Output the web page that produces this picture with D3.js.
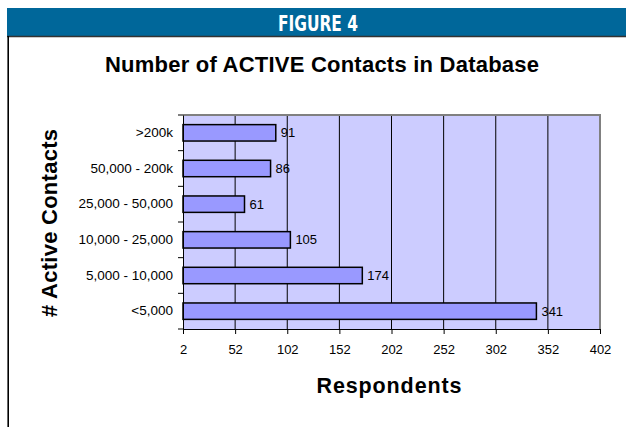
<!doctype html>
<meta charset="utf-8">
<title>Figure 4</title>
<style>
body { margin: 0; background: #fff; }
svg { font-family: Arial, "Liberation Sans", sans-serif; }
.grid line { stroke: #000; stroke-width: 1; }
.axis path, .axis line { stroke: #000; }
.axis text { font-size: 13px; fill: #000; }
</style>
<script src="https://d3js.org/d3.v7.min.js"></script>
<body>
<script>
// data
var categories = [">200k", "50,000 - 200k", "25,000 - 50,000", "10,000 - 25,000", "5,000 - 10,000", "<5,000"];
var respondents = [91, 86, 61, 105, 174, 341];
var xTicks = [2, 52, 102, 152, 202, 252, 302, 352, 402];

var width = 626, height = 427;
var plot = {left: 183, right: 600, top: 115, bottom: 329};

var svg = d3.select("body").append("svg")
    .attr("width", width)
    .attr("height", height);

// header band + frame
svg.append("rect")
    .attr("x", 7).attr("y", 8)
    .attr("width", width - 7).attr("height", 28)
    .attr("fill", "#00679a");
svg.append("line")
    .attr("x1", 7).attr("x2", width)
    .attr("y1", 36.5).attr("y2", 36.5)
    .attr("stroke", "#333").attr("stroke-width", 1.5);
svg.append("line")
    .attr("x1", 8.2).attr("x2", 8.2)
    .attr("y1", 36).attr("y2", height)
    .attr("stroke", "#000").attr("stroke-width", 1.6);

svg.append("text")
    .attr("x", 318).attr("y", 31)
    .attr("text-anchor", "middle")
    .style("font-family", "'Liberation Sans Narrow', 'DejaVu Sans Condensed', sans-serif")
    .style("font-weight", "bold")
    .style("font-size", "21px")
    .attr("textLength", 80)
    .attr("lengthAdjust", "spacingAndGlyphs")
    .attr("fill", "#fff")
    .text("FIGURE 4");

svg.append("text")
    .attr("x", 322).attr("y", 72)
    .attr("text-anchor", "middle")
    .style("font-weight", "bold")
    .style("font-size", "22px")
    .attr("textLength", 434)
    .text("Number of ACTIVE Contacts in Database");

// scales
var x = d3.scaleLinear()
    .domain([xTicks[0], xTicks[xTicks.length - 1]])
    .range([plot.left, plot.right]);
var y = d3.scaleBand()
    .domain(categories)
    .range([plot.top, plot.bottom])
    .paddingInner(0.54)
    .paddingOuter(0.27);

// plot background
svg.append("rect")
    .attr("x", plot.left).attr("y", plot.top)
    .attr("width", plot.right - plot.left).attr("height", plot.bottom - plot.top)
    .attr("fill", "#ccccff");

// gridlines
svg.append("g").attr("class", "grid")
  .selectAll("line")
    .data(xTicks.slice(1, -1))
  .enter().append("line")
    .attr("x1", function(d) { return x(d); })
    .attr("x2", function(d) { return x(d); })
    .attr("y1", plot.top).attr("y2", plot.bottom);

// plot border (top/right gray)
svg.append("path")
    .attr("d", "M" + plot.left + "," + plot.top + "H" + plot.right + "V" + plot.bottom)
    .attr("fill", "none")
    .attr("stroke", "#808080")
    .attr("stroke-width", 2);

// bars
svg.append("g")
  .selectAll("rect")
    .data(respondents)
  .enter().append("rect")
    .attr("x", x(xTicks[0]))
    .attr("y", function(d, i) { return y(categories[i]); })
    .attr("width", function(d) { return x(d) - x(xTicks[0]); })
    .attr("height", y.bandwidth())
    .attr("fill", "#9999ff")
    .attr("stroke", "#000")
    .attr("stroke-width", 1.5);

// value labels
svg.append("g")
  .selectAll("text")
    .data(respondents)
  .enter().append("text")
    .attr("x", function(d) { return x(d) + 5; })
    .attr("y", function(d, i) { return y(categories[i]) + y.bandwidth() / 2; })
    .attr("dy", "0.35em")
    .style("font-size", "13px")
    .text(function(d) { return d; });

// axes
var xAxis = d3.axisBottom(x)
    .tickValues(xTicks)
    .tickSize(5)
    .tickPadding(11)
    .tickSizeOuter(0);
svg.append("g")
    .attr("class", "axis")
    .attr("transform", "translate(0," + plot.bottom + ")")
    .call(xAxis);

var yAxis = d3.axisLeft(y)
    .tickSize(0)
    .tickPadding(10);
var gy = svg.append("g")
    .attr("class", "axis")
    .attr("transform", "translate(" + plot.left + ",0)")
    .call(yAxis);
gy.selectAll("text").style("font-size", "13.5px");
// ticks sit between categories
gy.selectAll(".sep")
    .data(d3.range(categories.length + 1))
  .enter().append("line")
    .attr("class", "sep")
    .attr("x1", -5).attr("x2", 0)
    .attr("y1", function(i) { return plot.top + i * (plot.bottom - plot.top) / categories.length; })
    .attr("y2", function(i) { return plot.top + i * (plot.bottom - plot.top) / categories.length; });

// axis titles
svg.append("text")
    .attr("x", 389).attr("y", 393)
    .attr("text-anchor", "middle")
    .style("font-weight", "bold")
    .style("font-size", "21.5px")
    .attr("textLength", 145)
    .text("Respondents");

svg.append("text")
    .attr("transform", "translate(57,223) rotate(-90)")
    .attr("text-anchor", "middle")
    .style("font-weight", "bold")
    .style("font-size", "22px")
    .attr("textLength", 188)
    .text("# Active Contacts");
</script>
